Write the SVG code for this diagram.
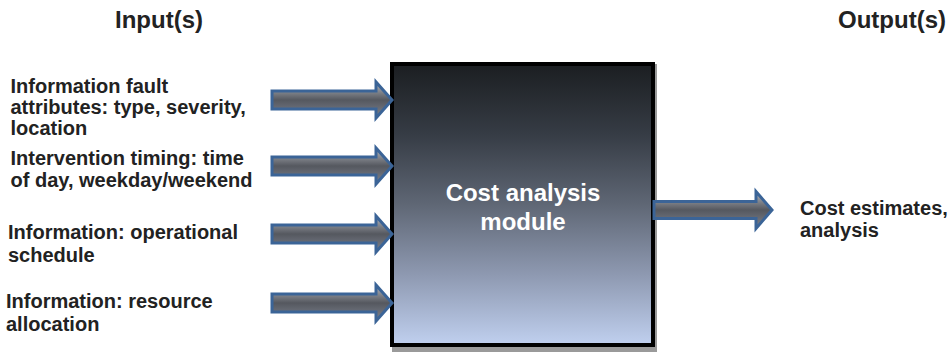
<svg xmlns="http://www.w3.org/2000/svg" width="949" height="356" viewBox="0 0 949 356">
<defs>
<linearGradient id="boxGrad" x1="0" y1="0" x2="0" y2="1">
<stop offset="0" stop-color="#1b1e21"/>
<stop offset="0.25" stop-color="#363c45"/>
<stop offset="0.5" stop-color="#5f6775"/>
<stop offset="0.75" stop-color="#8e99b1"/>
<stop offset="1" stop-color="#c0d0ef"/>
</linearGradient>
<linearGradient id="arrowGrad" x1="0" y1="0" x2="0" y2="1">
<stop offset="0" stop-color="#b4b8c0"/>
<stop offset="0.5" stop-color="#55585f"/>
<stop offset="1" stop-color="#7d8390"/>
</linearGradient>
<path id="inArrow" d="M272,-9 L376,-9 L376,-18 L392,0 L376,18 L376,9 L272,9 Z"/>
</defs>
<style>
.arrow { fill: url(#arrowGrad); stroke: #3b6497; stroke-width: 3; stroke-linejoin: miter; }
.lbl { font-family: "Liberation Sans", Arial, sans-serif; font-weight: bold; font-size: 20px; fill: #222222; }
.head { font-family: "Liberation Sans", Arial, sans-serif; font-weight: bold; font-size: 24px; fill: #222222; }
.mod { font-family: "Liberation Sans", Arial, sans-serif; font-weight: bold; font-size: 24px; fill: #ffffff; text-anchor: middle; }
</style>
<rect width="949" height="356" fill="#ffffff"/>

<g id="title-input"><text class="head" x="115" y="28">Input(s)</text></g>
<g id="title-output"><text class="head" x="946" y="28" text-anchor="end">Output(s)</text></g>

<g id="module">
<rect x="392" y="64" width="265" height="288" fill="#9a9a9a"/>
<rect x="392" y="64" width="261" height="281" fill="url(#boxGrad)" stroke="#000000" stroke-width="4"/>
<text class="mod" x="523" y="201">Cost analysis</text>
<text class="mod" x="523" y="230">module</text>
</g>

<g id="connectors">
<use href="#inArrow" class="arrow" transform="translate(0,100)"/>
<use href="#inArrow" class="arrow" transform="translate(0,166)"/>
<use href="#inArrow" class="arrow" transform="translate(0,234)"/>
<use href="#inArrow" class="arrow" transform="translate(0,303)"/>
<path class="arrow" d="M654,201.5 L756,201.5 L756,191.5 L772,210 L756,228.5 L756,218.5 L654,218.5 Z"/>
</g>

<g id="input-fault">
<text class="lbl" x="10.5" y="93">Information fault</text>
<text class="lbl" x="10.5" y="114">attributes: type, severity,</text>
<text class="lbl" x="10.5" y="135">location</text>
</g>
<g id="input-timing">
<text class="lbl" x="10.5" y="165">Intervention timing: time</text>
<text class="lbl" x="10.5" y="187">of day, weekday/weekend</text>
</g>
<g id="input-schedule">
<text class="lbl" x="8" y="239">Information: operational</text>
<text class="lbl" x="8" y="262">schedule</text>
</g>
<g id="input-resource">
<text class="lbl" x="6" y="308">Information: resource</text>
<text class="lbl" x="6" y="331">allocation</text>
</g>
<g id="output-cost">
<text class="lbl" x="800" y="215">Cost estimates,</text>
<text class="lbl" x="800" y="237">analysis</text>
</g>
</svg>
